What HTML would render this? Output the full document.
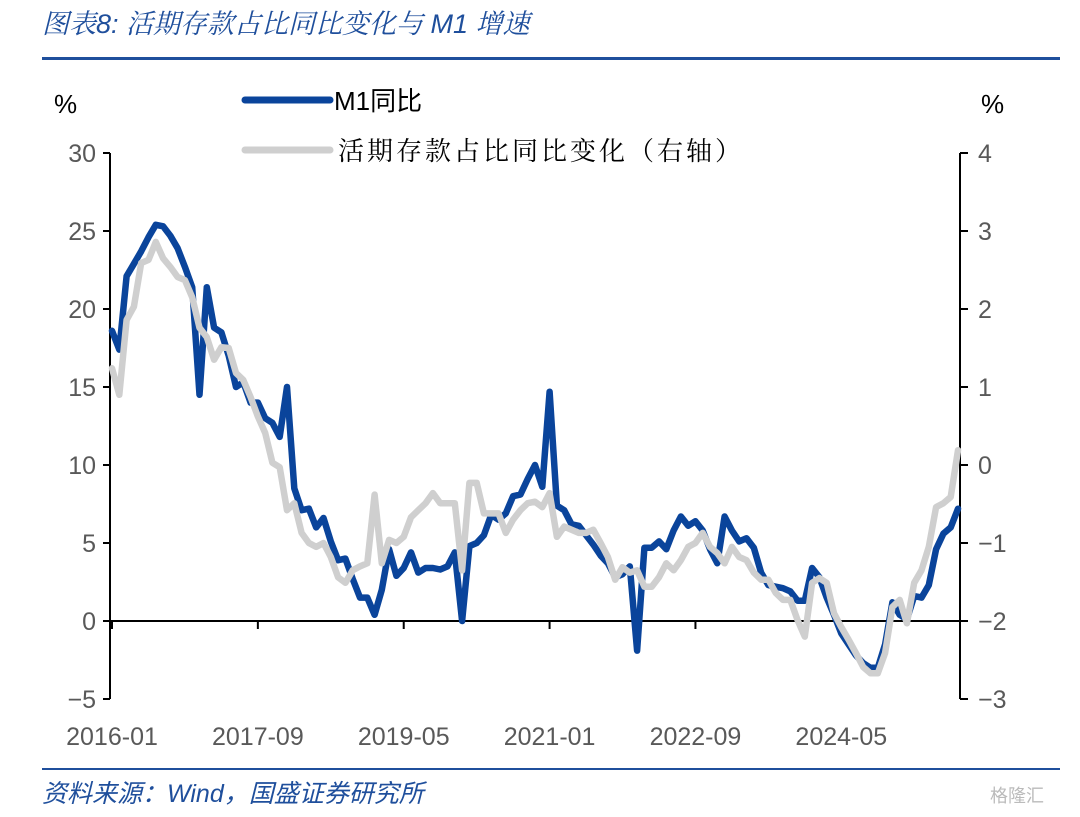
<!DOCTYPE html>
<html><head><meta charset="utf-8"><style>
body{margin:0;background:#fff;width:1080px;height:817px;overflow:hidden;font-family:"Liberation Sans","Noto Sans CJK SC",sans-serif}
svg{display:block}
</style></head><body>
<svg width="1080" height="817">
<text x="42" y="33" font-size="27" font-style="italic" fill="#1f4f9c" font-family="'Liberation Sans','Noto Serif CJK SC',sans-serif">图表8:  活期存款占比同比变化与 M1 增速</text>
<rect x="42" y="57" width="1018" height="3" fill="#1f4f9c"/>
<text x="54" y="113" font-size="26" fill="#000">%</text>
<text x="981" y="113" font-size="26" fill="#000">%</text>
<line x1="245" y1="100" x2="330" y2="100" stroke="#0a449b" stroke-width="7" stroke-linecap="round"/>
<text x="334" y="110" font-size="26" fill="#000" font-family="'Liberation Sans','Noto Sans CJK SC',sans-serif">M1同比</text>
<line x1="245" y1="150" x2="330" y2="150" stroke="#cfcfcf" stroke-width="7" stroke-linecap="round"/>
<text x="338" y="160" font-size="26" fill="#000" letter-spacing="3" font-family="'Noto Serif CJK SC',serif">活期存款占比同比变化（右轴）</text>
<g id="axes"></g>
<g id="series"></g>
<rect x="42" y="768" width="1018" height="2" fill="#1f4f9c"/>
<text x="42" y="802" font-size="25" font-style="italic" fill="#1f4f9c" font-family="'Liberation Sans','Noto Sans CJK SC',sans-serif">资料来源：Wind，国盛证券研究所</text>
<text x="990" y="802" font-size="18" fill="#bbb">格隆汇</text>
</svg>
<script>
const xLabels=["2016-01","2017-09","2019-05","2021-01","2022-09","2024-05"];
const xLabelIdx=[0,20,40,60,80,100];
const leftTicks=[30,25,20,15,10,5,0,-5];
const rightTicks=[4,3,2,1,0,-1,-2,-3];
const rightTickText=["4","3","2","1","0","\u22121","\u22122","\u22123"];
const m1=[18.6,17.4,22.1,22.9,23.7,24.6,25.4,25.3,24.7,23.9,22.7,21.4,
14.5,21.4,18.8,18.5,17.0,15.0,15.3,14.0,14.0,13.0,12.7,11.8,
15.0,8.5,7.1,7.2,6.0,6.6,5.1,3.9,4.0,2.7,1.5,1.5,
0.4,2.0,4.6,2.9,3.4,4.4,3.1,3.4,3.4,3.3,3.5,4.4,
0.0,4.8,5.0,5.5,6.8,6.5,6.9,8.0,8.1,9.1,10.0,8.6,
14.7,7.4,7.1,6.2,6.1,5.5,4.9,4.2,3.7,2.8,3.0,3.5,
-1.9,4.7,4.7,5.1,4.6,5.8,6.7,6.1,6.4,5.8,4.6,3.7,
6.7,5.8,5.1,5.3,4.7,3.1,2.3,2.2,2.1,1.9,1.3,1.3,
3.4,2.8,1.5,0.4,-0.8,-1.5,-2.2,-2.7,-3.0,-3.0,-1.5,1.2,
0.4,0.1,1.6,1.5,2.3,4.6,5.6,6.0,7.2];
const demand=[1.24,0.9,1.86,2.03,2.59,2.63,2.86,2.65,2.54,2.41,2.37,2.15,
1.76,1.64,1.35,1.51,1.5,1.18,1.09,0.87,0.62,0.41,0.03,-0.03,
-0.58,-0.49,-0.87,-1.0,-1.05,-1.0,-1.18,-1.44,-1.51,-1.35,-1.3,-1.26,
-0.38,-1.26,-0.96,-1.0,-0.92,-0.67,-0.58,-0.49,-0.36,-0.49,-0.49,-0.49,
-1.35,-0.23,-0.23,-0.62,-0.62,-0.62,-0.87,-0.7,-0.58,-0.49,-0.47,-0.54,
-0.36,-0.92,-0.79,-0.83,-0.87,-0.87,-0.83,-1.0,-1.18,-1.47,-1.31,-1.38,
-1.35,-1.56,-1.56,-1.44,-1.26,-1.35,-1.22,-1.05,-1.0,-0.87,-1.05,-1.13,
-1.26,-1.05,-1.18,-1.22,-1.38,-1.47,-1.47,-1.64,-1.73,-1.73,-1.99,-2.2,
-1.51,-1.45,-1.51,-1.9,-2.08,-2.24,-2.41,-2.59,-2.67,-2.67,-2.41,-1.82,
-1.73,-2.03,-1.51,-1.35,-1.05,-0.54,-0.49,-0.41,0.19];
const NS="http://www.w3.org/2000/svg";
const X0=110,X1=960,Y0=153,Y1=699;
const xs=i=>112+i*(958-112)/116;
const yl=v=>Y1-(v+5)/35*(Y1-Y0);
const yr=v=>Y1-(v+3)/7*(Y1-Y0);
const ax=document.getElementById('axes'),se=document.getElementById('series');
function mk(p,tag,at){const e=document.createElementNS(NS,tag);for(const k in at)e.setAttribute(k,at[k]);p.appendChild(e);return e;}
let e=mk(ax,'line',{x1:X0,y1:Y0,x2:X0,y2:Y1,stroke:'#000','stroke-width':2});


e=mk(ax,'line',{x1:X1,y1:Y0,x2:X1,y2:Y1,stroke:'#000','stroke-width':2});


e=mk(ax,'line',{x1:X0,y1:yl(0),x2:X1,y2:yl(0),stroke:'#000','stroke-width':2});


leftTicks.forEach(v=>{
 mk(ax,'line',{x1:X0-7,y1:yl(v),x2:X0,y2:yl(v),stroke:'#000','stroke-width':2});
 const t=mk(ax,'text',{x:96,y:yl(v)+9,'text-anchor':'end','font-size':25,fill:'#595959'});
 t.textContent=v<0?'\u2212'+(-v):String(v);
 
 
});
rightTicks.forEach((v,i)=>{
 mk(ax,'line',{x1:X1,y1:yr(v),x2:X1+8,y2:yr(v),stroke:'#000','stroke-width':2});
 const t=mk(ax,'text',{x:978,y:yr(v)+9,'font-size':25,fill:'#595959'});
 t.textContent=rightTickText[i];
 
 
});
xLabels.forEach((l,i)=>{
 const x=xs(xLabelIdx[i]);
 mk(ax,'line',{x1:x,y1:yl(0),x2:x,y2:yl(0)+8,stroke:'#000','stroke-width':2});
 const t=mk(ax,'text',{x:x,y:745,'text-anchor':'middle','font-size':25,fill:'#595959'});
 t.textContent=l;
 
 
});
const pd=demand.map((v,i)=>(i?'L':'M')+xs(i).toFixed(1)+' '+yr(v).toFixed(1)).join(' ');
e=mk(se,'path',{d:pd,fill:'none',stroke:'#cfcfcf','stroke-width':6.5,'stroke-linejoin':'round','stroke-linecap':'round'});


const pm=m1.map((v,i)=>(i?'L':'M')+xs(i).toFixed(1)+' '+yl(v).toFixed(1)).join(' ');
e=mk(se,'path',{d:pm,fill:'none',stroke:'#0a449b','stroke-width':6.5,'stroke-linejoin':'round','stroke-linecap':'round'});


se.appendChild(se.firstChild);
</script>
</body></html>
